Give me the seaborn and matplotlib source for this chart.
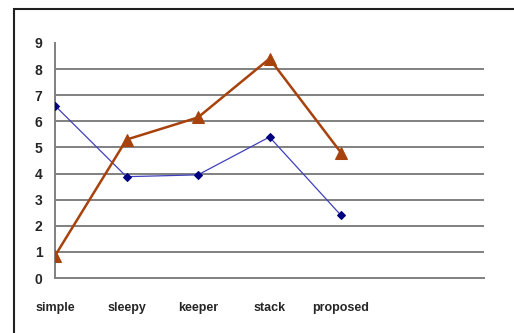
import matplotlib
matplotlib.use("Agg")
import matplotlib.pyplot as plt
import matplotlib.patches as patches
import seaborn as sns
import pandas as pd

# chart data
categories = ["simple", "sleepy", "keeper", "stack", "proposed", "", ""]
blue_values = [6.6, 3.88, 3.95, 5.4, 2.4]
orange_values = [0.85, 5.3, 6.15, 8.4, 4.8]
y_ticks = [0, 1, 2, 3, 4, 5, 6, 7, 8, 9]

sns.set_style("white")
plt.rcParams["font.family"] = ["Liberation Sans", "DejaVu Sans"]

fig = plt.figure(figsize=(5.14, 3.33), dpi=100)
ax = fig.add_axes([55 / 514, 1 - 278 / 333, (484 - 55) / 514, (278 - 43) / 333])

df_blue = pd.DataFrame({"x": range(len(blue_values)), "y": blue_values})
df_orange = pd.DataFrame({"x": range(len(orange_values)), "y": orange_values})

# gridlines (1..8 only, like the original)
for v in y_ticks[1:-1]:
    ax.axhline(v, color="#808080", lw=1.4, zorder=0)

sns.lineplot(data=df_blue, x="x", y="y", ax=ax, sort=False, color="#4040C0",
             lw=0.9, marker="D", markersize=4, markerfacecolor="#000080",
             markeredgecolor="#000080", zorder=3)
sns.lineplot(data=df_orange, x="x", y="y", ax=ax, sort=False, color="#A8420C",
             lw=1.8, marker="^", markersize=9, markerfacecolor="#A8420C",
             markeredgecolor="#A8420C", zorder=4)

ax.set_xlim(0, len(categories) - 1)
ax.set_ylim(0, 9)
ax.set_xticks(range(len(categories)))
ax.set_xticklabels(categories)
ax.set_yticks(y_ticks)
ax.set_xlabel("")
ax.set_ylabel("")

for s in ["top", "right"]:
    ax.spines[s].set_visible(False)
for s in ["left", "bottom"]:
    ax.spines[s].set_color("#808080")
    ax.spines[s].set_linewidth(1.4)

ax.tick_params(axis="x", direction="out", length=5, width=1.2, color="#808080",
               pad=12, labelsize=9)
ax.tick_params(axis="y", direction="out", length=4, width=1.2, color="#808080",
               pad=5, labelsize=10)
for lbl in ax.get_xticklabels() + ax.get_yticklabels():
    lbl.set_fontweight("bold")

# outer frame
frame = patches.Rectangle((14 / 514, -0.1), 1.2, 0.1 + 1 - 9 / 333,
                          transform=fig.transFigure, fill=False,
                          edgecolor="#202020", lw=1.5, clip_on=False)
fig.patches.append(frame)

fig.savefig("out.png", dpi=100)
